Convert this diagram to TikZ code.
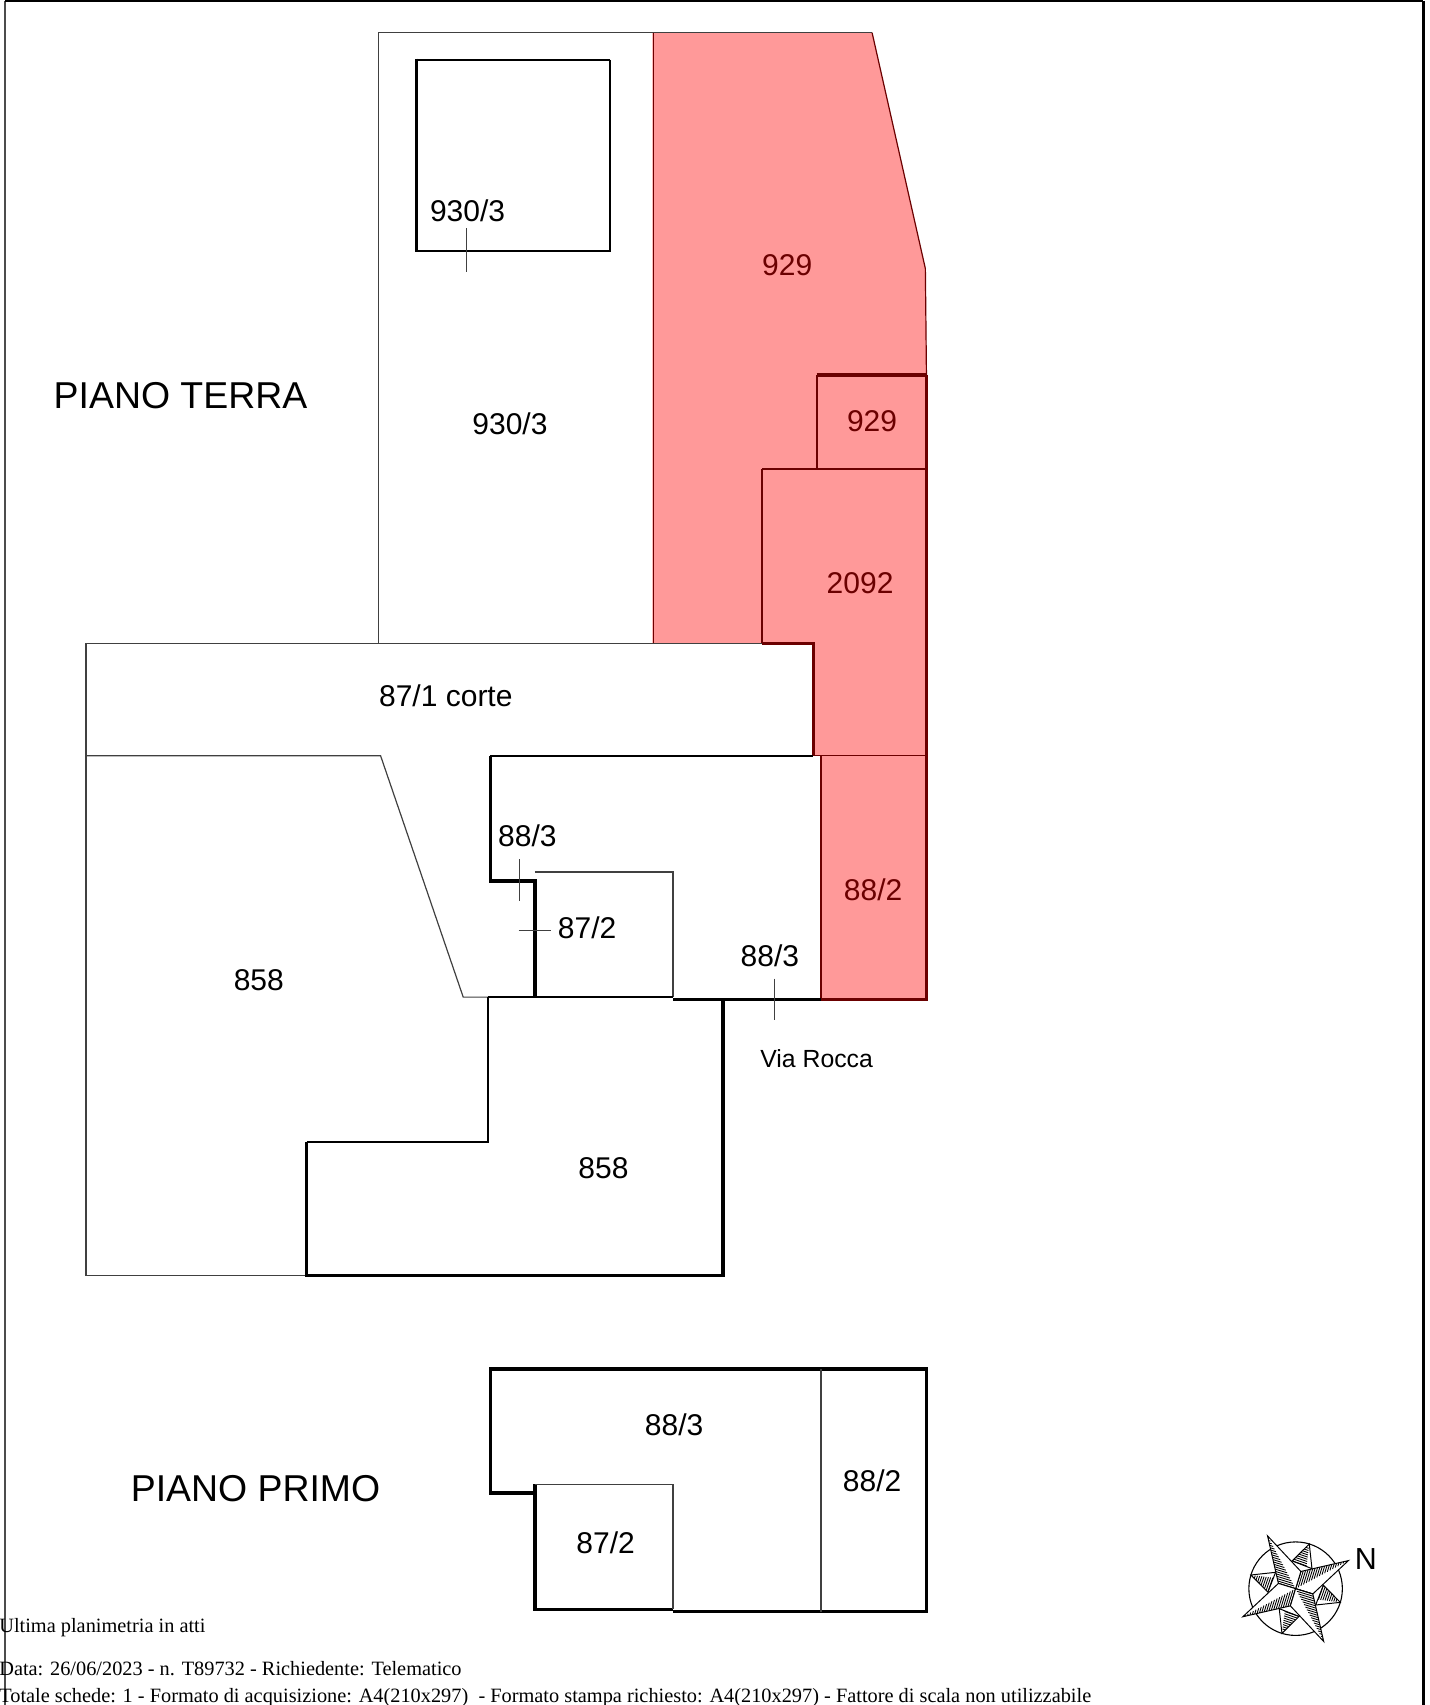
\documentclass[tikz,border=0pt]{standalone}
\usepackage{xcolor}
\usepackage{fontspec}
\setmainfont{Liberation Sans}
\newfontfamily\footfont{Liberation Serif}
\definecolor{partred}{HTML}{FF9999}
\definecolor{partdark}{HTML}{6B0000}
\begin{document}
\begin{tikzpicture}[
    x=0.5pt, y=-0.5pt,
    thinl/.style={draw, line width=0.55pt, black!75},
    midl/.style={draw, line width=1pt, black},
    thickl/.style={draw, line width=1.6pt, black},
    redthin/.style={draw, line width=0.55pt, partdark},
    redmid/.style={draw, line width=1pt, partdark},
    redthick/.style={draw, line width=1.6pt, partdark},
    lab/.style={inner sep=0pt, font=\fontsize{13.8}{16}\selectfont},
    redlab/.style={lab, text=partdark},
    floor/.style={inner sep=0pt, font=\fontsize{17.2}{20}\selectfont},
    foot/.style={inner sep=0pt, anchor=base west, font=\footfont\fontsize{9.35}{11}\selectfont}
]
    \useasboundingbox (0,0) rectangle (1315,1568);

    % Red parcel
    \fill [partred] (600,30) -- (802,30) -- (851,247) -- (852,345) -- (852,919) -- (755,919) -- (755,695) -- (748,695) -- (748,592) -- (600,592) -- cycle;

    % Page frame
    \draw [line width=1pt, black!70] (4.5,1568) -- (4.5,1);
    \draw [line width=1.2pt] (4.5,1) -- (1309,1);
    \draw [line width=1.7pt] (1309,1) -- (1309,1568);

    % Piano terra, upper court
    \draw [thinl] (348,592) -- (348,30) -- (802,30);
    \draw [redthin] (601,30) -- (601,592);
    \draw [redthin] (802,30) -- (851,247) -- (852,345);
    \draw [midl] (561,55) -- (561,231) -- (383,231);
    \draw [midl] (383,55) -- (561,55);
    \draw [thickl] (383,54) -- (383,232);
    \draw [thinl] (429,210) -- (429,250);

    % Red parcel subdivisions
    \draw [redthick] (751,345) -- (852,345);
    \draw [redmid] (751,345) -- (751,431);
    \draw [redmid] (701,431) -- (853,431);
    \draw [redmid] (701,431) -- (701,592);
    \draw [redthick] (701,592) -- (748,592) -- (748,695);
    \draw [redthin] (748,695) -- (853,695);
    \draw [redthin] (755,695) -- (755,919);
    \draw [redmid] (852,345) -- (852,919);
    \draw [redthick] (755,919) -- (853,919);

    % Piano terra, lower part
    \draw [thinl] (348,592) -- (79,592) -- (79,1173) -- (282,1173);
    \draw [thinl] (348,592) -- (701,592);
    \draw [thinl] (79,695) -- (350,695) -- (426,917) -- (449,917);
    \draw [midl] (451,695) -- (748,695);
    \draw [thickl] (451,695) -- (451,810) -- (492,810) -- (492,917);
    \draw [thinl] (492,802) -- (619,802) -- (619,917);
    \draw [midl] (449,917) -- (619,917);
    \draw [thickl] (619,919) -- (755,919);
    \draw [thickl] (665,919) -- (665,1173) -- (282,1173) -- (282,1050);
    \draw [midl] (282,1050) -- (449,1050) -- (449,917);
    \draw [thinl] (478,790) -- (478,829);
    \draw [thinl] (477,856) -- (507,856);
    \draw [thinl] (712,900) -- (712,938);

    % Piano primo
    \draw [thickl] (492,1365) -- (492,1373) -- (451,1373) -- (451,1259) -- (852,1259) -- (852,1482) -- (619,1482);
    \draw [thickl] (492,1373) -- (492,1480) -- (619,1480);
    \draw [thinl] (492,1365) -- (619,1365) -- (619,1480);
    \draw [thinl] (755,1259) -- (755,1482);

    % Labels
    \node [lab] (topbox) at (430,194) {930/3};
    \node [lab] (court) at (469,390) {930/3};
    \node [redlab] (parcela) at (724,244) {929};
    \node [redlab] (parcelb) at (802,387) {929};
    \node [redlab] (parcelc) at (791,536) {2092};
    \node [redlab] (parceld) at (803,818) {88/2};
    \node [lab] (corte) at (410,640) {87/1 corte};
    \node [lab] (subleft) at (485,769) {88/3};
    \node [lab] (subcentre) at (540,853) {87/2};
    \node [lab] (subright) at (708,879) {88/3};
    \node [lab] (lowa) at (238,901) {858};
    \node [lab] (lowb) at (555,1074) {858};
    \node [lab, font=\fontsize{11.4}{14}\selectfont] (street) at (751,974) {Via Rocca};
    \node [lab] (uppera) at (620,1310) {88/3};
    \node [lab] (upperb) at (802,1362) {88/2};
    \node [lab] (upperc) at (557,1419) {87/2};
    \node [floor] (terra) at (166,364) {PIANO TERRA};
    \node [floor] (primo) at (235,1369) {PIANO PRIMO};

    % Compass
    \coordinate (rose) at (1191.5,1461);
    \draw [line width=0.5pt] (rose) circle [radius=43];
    \foreach \a in {0,90,180,270} {
        \begin{scope}[shift={(rose)}, x=0.5pt, y=0.5pt, rotate=\a+28]
            % small point
            \begin{scope}[rotate=45]
                \filldraw [fill=white, line width=0.45pt] (43,0) -- (23.5,10.5) -- (22,-9) -- cycle;
                \foreach \t in {0,0.1,...,0.9} {
                    \draw [line width=0.4pt] ({23+\t*20},{-3.5*(1-\t)}) -- ({23.5+\t*19.5},{10.5*(1-\t)});
                }
            \end{scope}
            % main point
            \filldraw [fill=white, line width=0.45pt] (0,0) -- (11.7,11.7) -- (55,0) -- (11.7,-11.7) -- cycle;
            \foreach \t in {0,0.05,...,0.98} {
                \draw [line width=0.4pt] ({55*\t},0) -- ({11.7+43.3*\t},{11.7*(1-\t)});
            }
        \end{scope}
    }
    \node [lab, font=\fontsize{14}{16}\selectfont] (north) at (1256,1434) {N};

    % Footer
    \node [foot] (footb) at (-1,1501) {Ultima planimetria in atti};
    \node [foot] (footc) at (-1,1541) {Data: 26/06/2023 - n. T89732 - Richiedente: Telematico};
    \node [foot] (footd) at (-1,1566) {Totale schede: 1 - Formato di acquisizione: A4(210x297) \ - Formato stampa richiesto: A4(210x297) - Fattore di scala non utilizzabile};
\end{tikzpicture}
\end{document}
